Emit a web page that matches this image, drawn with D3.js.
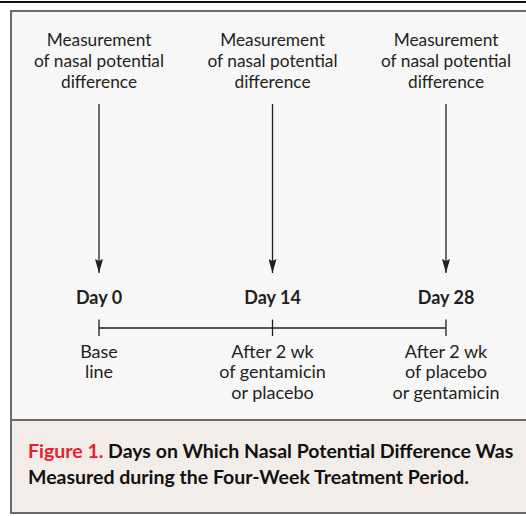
<!DOCTYPE html>
<html><head><meta charset="utf-8">
<script src="https://cdn.jsdelivr.net/npm/d3@7"></script>
<style>body{margin:0;background:#fff}svg{display:block}</style>
</head><body>
<script>
const days = [0, 14, 28];
const dayLabels = ["Day 0", "Day 14", "Day 28"];
const topLabels = [
  ["Measurement", "of nasal potential", "difference"],
  ["Measurement", "of nasal potential", "difference"],
  ["Measurement", "of nasal potential", "difference"]
];
const bottomLabels = [
  ["Base", "line"],
  ["After 2 wk", "of gentamicin", "or placebo"],
  ["After 2 wk", "of placebo", "or gentamicin"]
];
const captionRed = "Figure 1.";
const captionLines = ["Days on Which Nasal Potential Difference Was", "Measured during the Four-Week Treatment Period."];

const W = 526, H = 516;
const font = "Lato, 'Open Sans', sans-serif";
const ink = "#231f20";
const svg = d3.select("body").append("svg").attr("width", W).attr("height", H);

svg.append("defs").append("marker").attr("id", "ah")
  .attr("viewBox", "0 0 14 8").attr("refX", 14).attr("refY", 4)
  .attr("markerWidth", 14).attr("markerHeight", 8).attr("markerUnits", "userSpaceOnUse")
  .attr("orient", "auto")
  .append("path").attr("d", "M0,0 L14,4 L0,8 L2,4 Z").attr("fill", ink);

// top rule
svg.append("rect").attr("x", 0).attr("y", 1).attr("width", W).attr("height", 2).attr("fill", "#111");
// panel
svg.append("rect").attr("x", 11).attr("y", 11).attr("width", W).attr("height", 409).attr("fill", "#f7f7f7");
svg.append("rect").attr("x", 11).attr("y", 420).attr("width", W).attr("height", 93).attr("fill", "#f2ede8");
const bc = "#6b6b6b";
svg.append("line").attr("x1", 11).attr("x2", W).attr("y1", 11).attr("y2", 11).attr("stroke", bc).attr("stroke-width", 2);
svg.append("line").attr("x1", 11).attr("x2", W).attr("y1", 420).attr("y2", 420).attr("stroke", bc).attr("stroke-width", 2);
svg.append("line").attr("x1", 11).attr("x2", W).attr("y1", 513).attr("y2", 513).attr("stroke", bc).attr("stroke-width", 2);
svg.append("line").attr("x1", 11).attr("x2", 11).attr("y1", 10).attr("y2", 514).attr("stroke", bc).attr("stroke-width", 2);

const x = d3.scaleLinear().domain([0, 28]).range([99, 446]);

const g = svg.append("g");
const col = g.selectAll("g.col").data(days).join("g").attr("class", "col")
  .attr("transform", d => `translate(${x(d)},0)`);

col.each(function(d, i) {
  const c = d3.select(this);
  c.append("text").attr("text-anchor", "middle").attr("font-family", font).attr("font-size", 17.3)
    .attr("fill", ink)
    .selectAll("tspan").data(topLabels[i]).join("tspan")
    .attr("x", 0).attr("y", (t, j) => 46 + j * 21).text(t => t);
  c.append("line").attr("x1", 0).attr("x2", 0).attr("y1", 104).attr("y2", 273)
    .attr("stroke", ink).attr("stroke-width", 1.3).attr("marker-end", "url(#ah)");
  c.append("text").attr("text-anchor", "middle").attr("font-family", font).attr("font-size", 18)
    .attr("font-weight", "bold").attr("fill", ink).attr("y", 304).text(dayLabels[i]);
  c.append("line").attr("x1", 0).attr("x2", 0).attr("y1", 319.5).attr("y2", 336)
    .attr("stroke", ink).attr("stroke-width", 1.3);
  c.append("text").attr("text-anchor", "middle").attr("font-family", font).attr("font-size", 18)
    .attr("fill", ink)
    .selectAll("tspan").data(bottomLabels[i]).join("tspan")
    .attr("x", 0).attr("y", (t, j) => 357.5 + j * 20.8).text(t => t);
});
g.append("line").attr("x1", x(0)).attr("x2", x(28)).attr("y1", 328).attr("y2", 328)
  .attr("stroke", ink).attr("stroke-width", 1.3);

const cap = svg.append("text").attr("font-family", font).attr("font-size", 19.5).attr("font-weight", "bold").attr("fill", "#111");
const l1 = cap.append("tspan").attr("x", 28).attr("y", 457.5);
l1.append("tspan").attr("fill", "#e8202e").text(captionRed + " ");
l1.append("tspan").text(captionLines[0]);
cap.append("tspan").attr("x", 28).attr("y", 483.5).text(captionLines[1]);
</script>
</body></html>
